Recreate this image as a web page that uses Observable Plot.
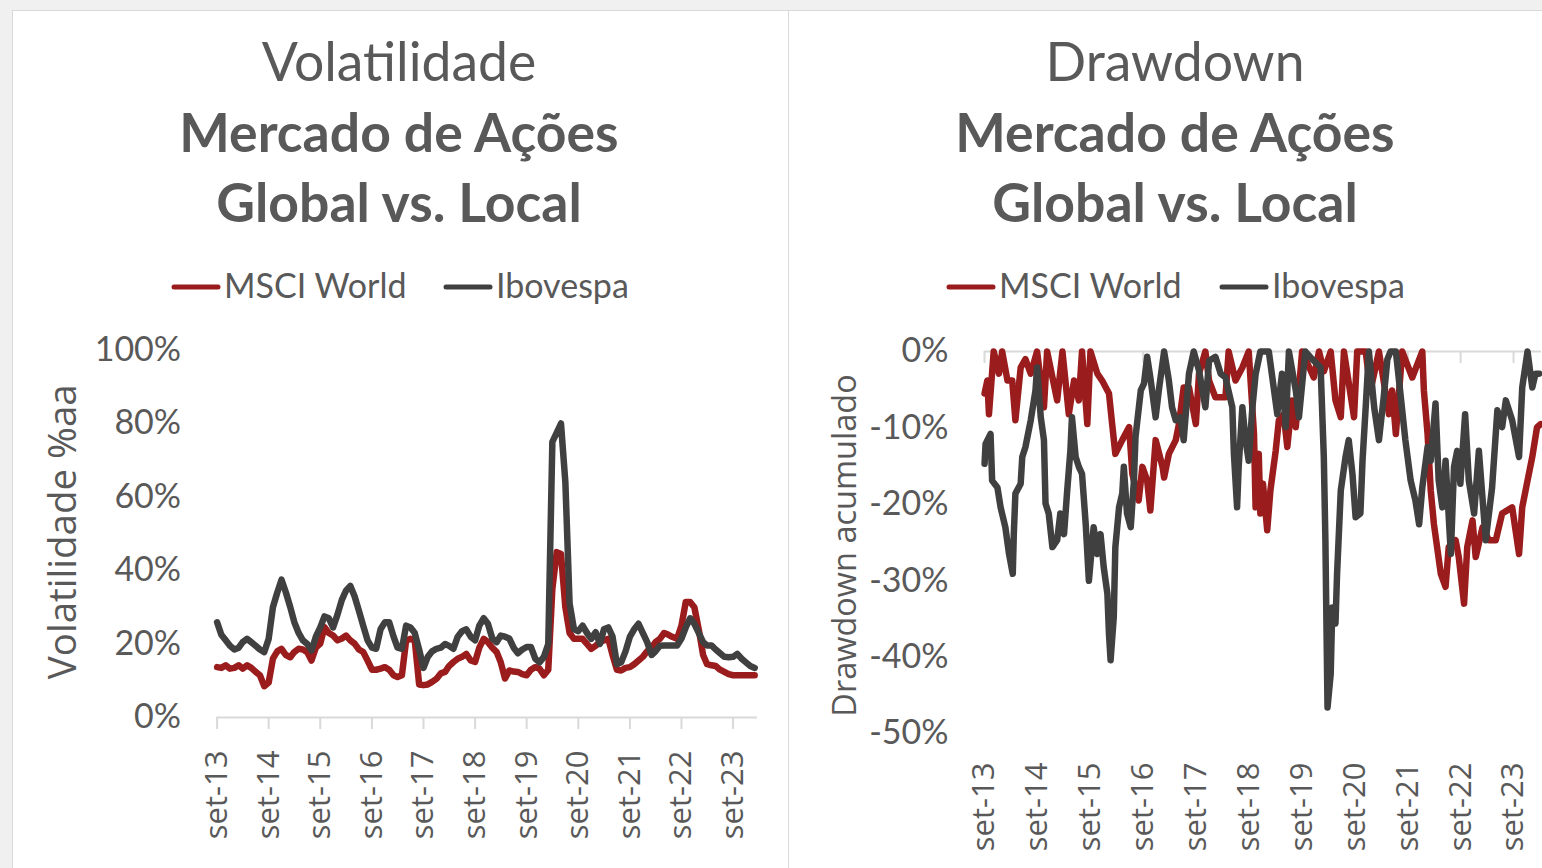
<!DOCTYPE html>
<html>
<head>
<meta charset="utf-8">
<script src="https://cdn.jsdelivr.net/npm/d3@7"></script>
<script src="https://cdn.jsdelivr.net/npm/@observablehq/plot@0.6"></script>
<style>
  html, body { margin: 0; padding: 0; background: #f0f0f0; }
  #root { position: relative; width: 1542px; height: 868px; overflow: hidden; background: #f0f0f0; }
  .panel { position: absolute; top: 10px; height: 900px; background: #fff; border: 1px solid #d9d9d9; box-sizing: border-box; }
  .chart { position: absolute; top: 300px; }
  #overlay { position: absolute; left: 0; top: 0; pointer-events: none; }
</style>
</head>
<body>
<div id="root">
  <div class="panel" style="left:12px;width:777px;"></div>
  <div class="panel" style="left:788px;width:760px;"></div>
  <div class="chart" id="vol" style="left:0px;width:788px;"></div>
  <div class="chart" id="dd" style="left:789px;width:753px;"></div>
</div>
<script>
// ---------------- DATA ----------------
const seriesNames = ["MSCI World", "Ibovespa"];
const seriesColors = ["#9b1c1c", "#404040"];
const xTickLabels = ["set-13","set-14","set-15","set-16","set-17","set-18","set-19","set-20","set-21","set-22","set-23"];
const volTicks = [0, 20, 40, 60, 80, 100];
const ddTicks = [0, -10, -20, -30, -40, -50];

// Volatility (% a.a.), monthly, set-2013 .. fev-2024
const msciVol = [13.7,13.5,14.2,13.3,13.5,14.2,13.3,14.2,13.5,12.4,11.5,8.5,
  9.5,16,18,18.7,17,16.4,17.8,18.7,18.5,17.8,15.5,19,
  20.1,24.6,23,22.3,21,21.5,22.3,21,20.1,18.5,17.8,15.5,
  13,13,13.3,13.7,13,11.5,11,11.5,21,21.4,21,9,
  8.8,9,9.7,10.5,12,12.4,14,15.1,16,16.5,17.3,15.5,
  15.1,19,21.4,20.5,19,17.8,15.1,10.6,12.8,12.5,12.4,11.8,
  11.5,13,13.7,13.3,11.5,13,35,45,44.5,30,23,21.4,
  21.4,21.4,20,18.7,19.5,20.5,21,21.4,17,13,12.8,13.5,
  13.7,14.5,15.5,16.5,18,19,20.5,21.4,23,22.5,21.9,21.4,
  25,31.4,31.4,30,24,17,14.5,14.2,14,13,12.4,11.8,
  11.5,11.5,11.5,11.5,11.5,11.5];
const iboVol = [25.9,22.5,21,19.5,18.5,19,20.5,21.4,20.5,19.5,18.5,17.8,
  21.4,30,34,37.5,34,30,26,23,21,20,18.2,22,
  24.5,27.5,27,24.5,28,32,34.5,35.8,33,29,25,21,
  19,18.7,24,25.9,25.9,22,19,18.7,25,24.5,23,18.5,
  13.5,16.5,18,18.7,19,20,19.5,18.7,22,23.5,24,22,
  21,25,27,25.5,21.5,20.5,22.3,22,21.5,19,17.5,18.5,
  19.2,19.2,16,15,16.5,20,75,77.5,80,64,31,24,
  23.5,25,23,21.4,23.2,20,24,24.5,22,14.5,15,18,
  22,24,25.5,23,20.5,17,18,19.5,19.6,19.6,19.6,19.6,
  21.5,24.5,27,25.5,23,20.5,19.6,19.6,18.5,17.5,16.5,16.4,
  16.5,17.3,16,15,14,13.5];

// Drawdown (%), read at irregular dates (decimal years)
const msciDDt = [2013.667,2013.72,2013.75,2013.84,2013.94,2014.00,2014.10,2014.19,2014.25,2014.35,
  2014.44,2014.54,2014.66,2014.79,2014.85,2015.04,2015.14,2015.26,2015.36,2015.45,
  2015.51,2015.61,2015.67,2015.80,2015.89,2016.02,2016.08,2016.14,2016.27,2016.40,
  2016.46,2016.58,2016.65,2016.74,2016.80,2016.90,2017.03,2017.06,2017.15,2017.28,
  2017.34,2017.43,2017.53,2017.66,2017.72,2017.84,2017.91,2018.03,2018.22,2018.28,
  2018.41,2018.54,2018.66,2018.76,2018.79,2018.85,2018.88,2018.93,2019.01,2019.07,
  2019.17,2019.23,2019.32,2019.39,2019.48,2019.55,2019.67,2019.89,2019.99,2020.08,
  2020.21,2020.30,2020.40,2020.46,2020.65,2020.71,2020.87,2020.96,2021.12,2021.31,
  2021.37,2021.44,2021.56,2021.75,2021.94,2021.97,2022.04,2022.10,2022.16,2022.22,
  2022.29,2022.38,2022.44,2022.57,2022.63,2022.73,2022.79,2022.89,2022.95,2023.08,
  2023.20,2023.33,2023.45,2023.64,2023.77,2023.83,2023.93,2024.02,2024.11,2024.18];
const msciDD = [-5.5,-3.8,-8.2,0,-2.9,0,-3.8,-3.8,-9.0,-2.1,
  -1,-2.9,0,-7.3,0,-6.4,0,-8.2,-3.8,-6.4,
  0,-9.5,0,-2.9,-3.8,-5.5,-9.5,-13.4,-11.6,-9.9,
  -16.0,-19.5,-15.1,-16.9,-20.8,-11.6,-15.1,-16.5,-13.4,-11.6,
  -9.5,-4.7,-4.7,-9.5,-2.9,0,-3.8,-6.0,-6.0,0,
  -3.8,-2.1,0,-10.8,-20.4,-13.4,-21.2,-17.3,-23.4,-18.2,
  -13.0,-9.0,-8.2,-12.5,-6.4,-9.9,0,-3.4,0,-2.6,
  0,-6.4,-8.6,0,-8.6,0,0,-5.1,0,-8.2,
  -5.1,-10.8,0,-3.4,0,-5.1,-10.8,-18.2,-22.6,-25.6,
  -29.1,-30.8,-25.6,-24.7,-26.9,-33.0,-25.6,-22.1,-26.9,-23.0,
  -24.7,-24.7,-21.2,-20.4,-26.5,-20.4,-16.9,-13.8,-9.9,-9.5];

const iboDDt = [2013.667,2013.686,2013.78,2013.81,2013.91,2013.97,2014.06,2014.13,2014.20,2014.22,
  2014.25,2014.35,2014.38,2014.44,2014.54,2014.63,2014.66,2014.73,2014.79,2014.82,
  2014.88,2014.95,2015.04,2015.10,2015.17,2015.23,2015.29,2015.32,2015.39,2015.45,
  2015.51,2015.58,2015.64,2015.73,2015.80,2015.86,2015.92,2015.99,2016.02,2016.05,
  2016.11,2016.14,2016.21,2016.27,2016.30,2016.36,2016.43,2016.49,2016.52,2016.62,
  2016.68,2016.74,2016.80,2016.90,2016.96,2017.06,2017.15,2017.21,2017.28,2017.37,
  2017.43,2017.53,2017.62,2017.72,2017.84,2017.91,2018.03,2018.13,2018.22,2018.35,
  2018.38,2018.44,2018.47,2018.54,2018.60,2018.66,2018.73,2018.79,2018.88,2019.04,
  2019.14,2019.20,2019.29,2019.36,2019.42,2019.55,2019.61,2019.73,2019.86,2020.02,
  2020.08,2020.11,2020.15,2020.21,2020.24,2020.30,2020.33,2020.40,2020.49,2020.55,
  2020.62,2020.68,2020.77,2020.81,2020.87,2020.93,2021.03,2021.12,2021.21,2021.28,
  2021.34,2021.44,2021.50,2021.62,2021.72,2021.81,2021.88,2021.94,2022.04,2022.10,
  2022.19,2022.25,2022.32,2022.38,2022.48,2022.54,2022.60,2022.66,2022.75,2022.82,
  2022.92,2023.01,2023.14,2023.26,2023.36,2023.45,2023.52,2023.64,2023.77,2023.83,
  2023.93,2024.02,2024.08,2024.15];
const iboDD = [-14.7,-12.1,-10.8,-16.9,-17.8,-20.4,-23.0,-26.5,-29.1,-23.9,
  -18.6,-17.3,-13.8,-12.5,-9.0,-5.1,-2.1,-8.6,-11.6,-19.9,
  -21.2,-25.6,-24.7,-21.2,-23.9,-18.2,-13.0,-8.6,-13.8,-15.1,
  -16.0,-22.6,-30.0,-23.0,-26.5,-23.9,-28.2,-31.7,-37.0,-40.4,
  -34.8,-25.6,-20.4,-18.6,-15.1,-21.2,-23.0,-16.9,-11.2,-5.1,
  -4.2,-0.7,-3.4,-8.6,-5.1,0,-3.8,-7.3,-9.0,-8.6,
  -11.6,-2.9,0,-2.5,-7.3,-1.2,-0.7,-2.9,-3.4,-7.3,
  -13.4,-20.4,-15.1,-7.3,-11.6,-14.3,-7.3,-3,0,0,
  -5.1,-8.2,-2.9,-9.9,0,-5.1,-8.6,0,-1,-2.1,
  -13.8,-24.7,-46.6,-42.2,-33.5,-35.6,-29.1,-18.2,-13.8,-11.6,
  -16.0,-21.7,-21.2,-14.3,-7.3,0,-7.3,-11.6,-6.0,-1,
  0,0,-3.8,-11.6,-16.9,-19.5,-22.6,-17.8,-12.5,-14.3,
  -6.8,-16.9,-20.4,-14.3,-26.5,-15.1,-13.0,-17.3,-8.2,-16.9,
  -21.2,-13.0,-24.7,-17.8,-7.7,-9.9,-6.4,-9.0,-13.8,-4.7,
  0,-4.7,-2.9,-2.9];

// ---------------- HELPERS ----------------
const fromYear = t => {
  const y = Math.floor(t);
  const a = Date.UTC(y, 0, 1), b = Date.UTC(y + 1, 0, 1);
  return new Date(a + (t - y) * (b - a));
};
const months = d3.utcMonth.range(new Date(Date.UTC(2013, 8, 1)), new Date(Date.UTC(2024, 2, 1)));
const tickDates = xTickLabels.map(s => new Date(Date.UTC(2000 + +s.slice(4), 8, 1)));
const fmtX = d => xTickLabels[d.getUTCFullYear() - 2013];

const msciVolData = months.map((d, i) => ({date: d, v: msciVol[i]}));
const iboVolData = months.map((d, i) => ({date: d, v: iboVol[i]}));
const msciDDData = msciDDt.map((t, i) => ({date: fromYear(t), v: msciDD[i]}));
const iboDDData = iboDDt.map((t, i) => ({date: fromYear(t), v: iboDD[i]}));

const TXT = "#595959";
const GRID = "#d9d9d9";
const LW = 6.5;

// ---------------- VOLATILITY CHART ----------------
const vol = Plot.plot({
  width: 788, height: 568,
  marginLeft: 216.6, marginRight: 31, marginTop: 49.5, marginBottom: 151,
  style: {background: "transparent", overflow: "visible", color: TXT},
  x: {type: "utc", domain: [new Date(Date.UTC(2013, 8, 1)), new Date(Date.UTC(2024, 1, 21))]},
  y: {domain: [0, 100]},
  marks: [
    Plot.ruleY([0], {stroke: GRID, strokeWidth: 2}),
    Plot.axisX({ticks: tickDates, tickFormat: fmtX, tickRotate: -90, tickSize: 12, tickPadding: 21,
      stroke: GRID, strokeWidth: 2, fill: TXT, fontSize: 31, fontFamily: "Open Sans", label: null}),
    Plot.axisY({ticks: volTicks, tickFormat: d => d + "%", tickSize: 0, tickPadding: 36,
      fill: TXT, fontSize: 34, fontFamily: "Lato", label: null}),
    Plot.text(["Volatilidade %aa"], {text: d => d, frameAnchor: "left", rotate: -90, dx: -141.6, dy: -2,
      textAnchor: "middle", lineAnchor: "bottom", fontSize: 38.5, fontFamily: "Open Sans", fill: TXT}),
    Plot.line(msciVolData, {x: "date", y: "v", stroke: seriesColors[0], strokeWidth: LW, strokeLinejoin: "round", strokeLinecap: "round"}),
    Plot.line(iboVolData, {x: "date", y: "v", stroke: seriesColors[1], strokeWidth: LW, strokeLinejoin: "round", strokeLinecap: "round"})
  ]
});
document.getElementById("vol").append(vol);

// ---------------- DRAWDOWN CHART ----------------
const dd = Plot.plot({
  width: 753, height: 568,
  marginLeft: 195, marginRight: 1, marginTop: 51, marginBottom: 135,
  style: {background: "transparent", overflow: "visible", color: TXT},
  x: {type: "utc", domain: [new Date(Date.UTC(2013, 8, 1)), new Date(Date.UTC(2024, 2, 12))]},
  y: {domain: [-50, 0]},
  marks: [
    Plot.ruleY([0], {stroke: GRID, strokeWidth: 2}),
    Plot.axisX({ticks: tickDates, anchor: "bottom", frameAnchor: "top", tickSize: 12,
      stroke: GRID, strokeWidth: 2, fill: "none", label: null}),
    Plot.axisX({ticks: tickDates, tickFormat: fmtX, anchor: "bottom", tickRotate: -90, tickSize: 0, tickPadding: 29,
      fill: TXT, fontSize: 31, fontFamily: "Open Sans", label: null}),
    Plot.axisY({ticks: ddTicks, tickFormat: d => d + "%", tickSize: 0, tickPadding: 36,
      fill: TXT, fontSize: 34, fontFamily: "Lato", label: null}),
    Plot.text(["Drawdown acumulado"], {text: d => d, frameAnchor: "left", rotate: -90, dx: -129, dy: 3,
      textAnchor: "middle", lineAnchor: "bottom", fontSize: 32.5, fontFamily: "Open Sans", fill: TXT}),
    Plot.line(msciDDData, {x: "date", y: "v", stroke: seriesColors[0], strokeWidth: LW, strokeLinejoin: "round", strokeLinecap: "round"}),
    Plot.line(iboDDData, {x: "date", y: "v", stroke: seriesColors[1], strokeWidth: LW, strokeLinejoin: "round", strokeLinecap: "round"})
  ]
});
document.getElementById("dd").append(dd);

// ---------------- TITLES & LEGENDS ----------------
const overlay = d3.select("#root").append("svg").attr("id", "overlay")
  .attr("width", 1542).attr("height", 868);
const titles = [
  {cx: 399, lines: ["Volatilidade", "Mercado de Ações", "Global vs. Local"]},
  {cx: 1175, lines: ["Drawdown", "Mercado de Ações", "Global vs. Local"]}
];
const baselines = [81, 152, 222];
titles.forEach(t => {
  t.lines.forEach((s, i) => {
    overlay.append("text").attr("x", t.cx).attr("y", baselines[i])
      .attr("text-anchor", "middle").attr("fill", TXT)
      .attr("font-family", "Lato").attr("font-size", 53.5)
      .attr("font-weight", i === 0 ? 400 : 700).text(s);
  });
});
const legends = [
  [{x: 172, label: seriesNames[0], color: seriesColors[0]}, {x: 444, label: seriesNames[1], color: seriesColors[1]}],
  [{x: 947, label: seriesNames[0], color: seriesColors[0]}, {x: 1220, label: seriesNames[1], color: seriesColors[1]}]
];
legends.flat().forEach(l => {
  overlay.append("line").attr("x1", l.x + 2).attr("x2", l.x + 46).attr("y1", 287).attr("y2", 287)
    .attr("stroke", l.color).attr("stroke-width", 5).attr("stroke-linecap", "round");
  overlay.append("text").attr("x", l.x + 52).attr("y", 298).attr("fill", TXT)
    .attr("font-family", "Lato").attr("font-size", 34).text(l.label);
});
</script>
</body>
</html>
